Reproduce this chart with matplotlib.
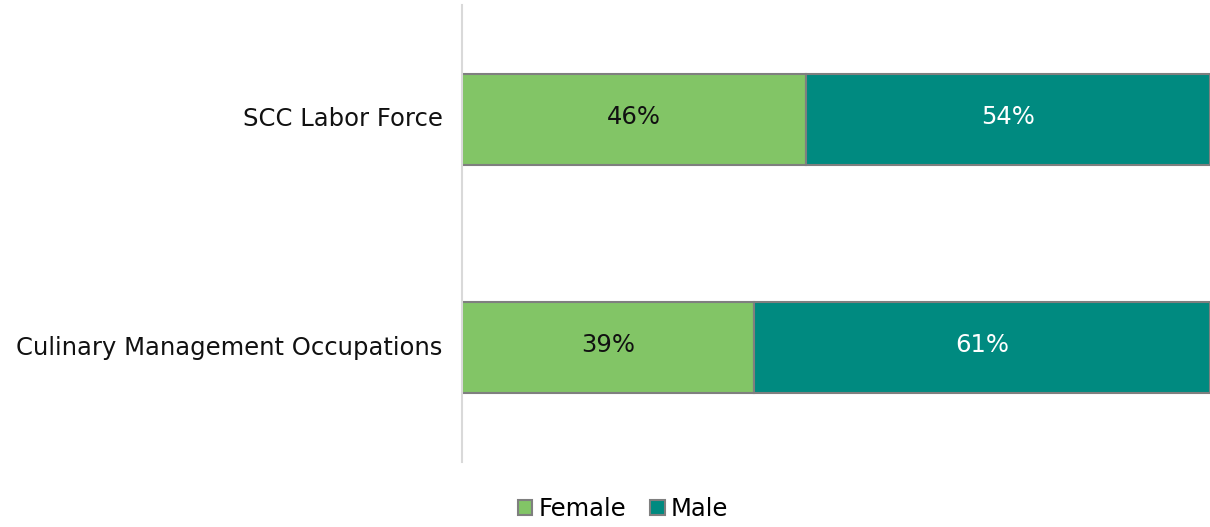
import numpy as np
import matplotlib.pyplot as plt

categories = ['SCC Labor Force', 'Culinary Management Occupations']
female = [46, 39]
male = [54, 61]

green = '#82c566'
teal = '#008a80'
edge = '#7f7f7f'

plt.rcParams['font.family'] = ['DejaVu Sans']

fig = plt.figure(figsize=(12.1, 5.27), dpi=100)
ax = fig.add_axes([462 / 1210, 1 - 462 / 527, 1 - 462 / 1210, 457 / 527])

y = np.arange(len(categories))
b1 = ax.barh(y, female, height=0.40, color=green, edgecolor=edge, linewidth=1.5, label='Female')
b2 = ax.barh(y, male, left=female, height=0.40, color=teal, edgecolor=edge, linewidth=1.5, label='Male')

fs = 17.5
for i in range(len(categories)):
    ax.text(female[i] / 2, y[i] - 0.01, f'{female[i]}%', ha='center', va='center', fontsize=fs, color='#111111')
    ax.text(female[i] + male[i] / 2, y[i] - 0.01, f'{male[i]}%', ha='center', va='center', fontsize=fs, color='white')

ax.set_xlim(0, 100)
ax.set_ylim(1.5, -0.5)
ax.set_yticks(y - 0.012)
ax.set_yticklabels(categories, fontsize=fs, color='#111111')
ax.tick_params(axis='y', length=0, pad=14)
ax.set_xticks([])
for s in ['top', 'right', 'bottom']:
    ax.spines[s].set_visible(False)
ax.spines['left'].set_color('#d9d9d9')
ax.spines['left'].set_linewidth(1.5)

leg = fig.legend(handles=[b1, b2], loc='lower center', bbox_to_anchor=(0.515, -0.03), ncol=2,
                 frameon=False, fontsize=fs, handlelength=0.6, handleheight=0.6,
                 handletextpad=0.25, columnspacing=1.0)

fig.savefig('out.png', dpi=100)
